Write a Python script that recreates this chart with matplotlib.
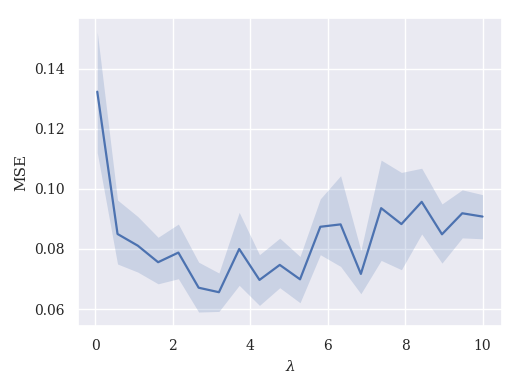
import numpy as np
import matplotlib
matplotlib.use("Agg")
import matplotlib.pyplot as plt
import seaborn as sns

# lambda grid and MSE (mean with band bounds)
lam = np.linspace(0.05, 10, 20)
mse_mean = [0.1324, 0.0850, 0.0811, 0.0756, 0.0788, 0.0671, 0.0656, 0.0800, 0.0697, 0.0747,
            0.0699, 0.0874, 0.0882, 0.0717, 0.0936, 0.0883, 0.0957, 0.0849, 0.0919, 0.0908]
mse_upper = [0.1523, 0.0963, 0.0908, 0.0839, 0.0883, 0.0756, 0.0720, 0.0922, 0.0781, 0.0836,
             0.0775, 0.0967, 0.1044, 0.0795, 0.1096, 0.1055, 0.1069, 0.0950, 0.0997, 0.0981]
mse_lower = [0.1121, 0.0750, 0.0723, 0.0684, 0.0701, 0.0590, 0.0592, 0.0679, 0.0612, 0.0671,
             0.0621, 0.0781, 0.0742, 0.0651, 0.0762, 0.0731, 0.0850, 0.0753, 0.0837, 0.0834]

sns.set_theme(style="darkgrid")
plt.rcParams['font.family'] = ['DejaVu Serif']
plt.rcParams['mathtext.fontset'] = 'dejavuserif'

fig, ax = plt.subplots(figsize=(5.2, 3.9), dpi=100)
color = sns.color_palette("deep")[0]
ax.fill_between(lam, mse_lower, mse_upper, color=color, alpha=0.2, linewidth=0)
ax.plot(lam, mse_mean, color=color, linewidth=1.6)

ax.set_xlabel(r"$\lambda$", fontsize=11)
ax.set_ylabel("MSE", fontsize=11)
ax.tick_params(labelsize=10)

fig.subplots_adjust(left=0.15, right=0.965, top=0.954, bottom=0.164)
fig.savefig("out.png", dpi=100)
